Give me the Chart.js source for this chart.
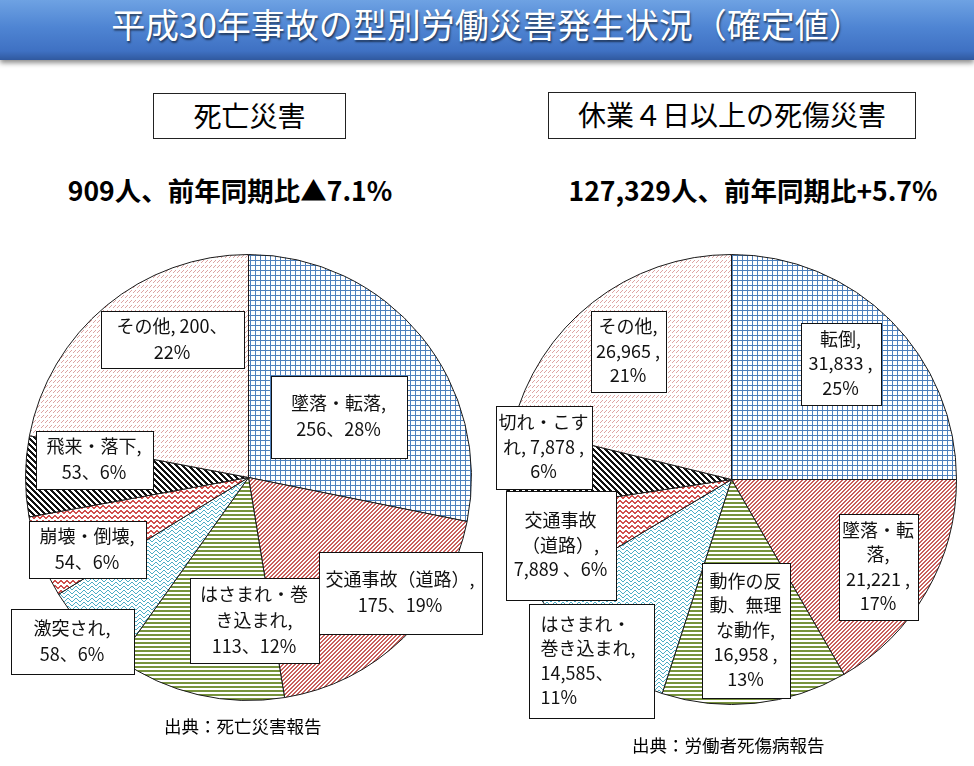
<!DOCTYPE html>
<html><head><meta charset="utf-8">
<script src="https://cdn.jsdelivr.net/npm/chart.js@4.4.1/dist/chart.umd.min.js"></script>
<style>
html,body{margin:0;padding:0;background:#fff;}
#page{position:relative;width:974px;height:766px;overflow:hidden;font-family:"Noto Sans CJK JP",sans-serif;color:#000;}
#banner{position:absolute;left:0;top:0;width:974px;height:60px;background:linear-gradient(#6ea2e3 0%,#4f85d3 45%,#3f71c3 85%,#30599f 100%);box-shadow:0 3px 5px rgba(0,0,0,.45);}
#title{position:absolute;left:0;top:0;width:974px;height:56px;line-height:48px;text-align:center;color:#fff;font-size:34px;text-shadow:1px 2px 2px rgba(0,0,0,.55);}
.hbox{position:absolute;border:1px solid #222;background:#fff;text-align:center;font-size:28px;box-sizing:border-box;}
.bold{position:absolute;font-weight:bold;font-size:26.5px;text-align:center;white-space:nowrap;}
.src{position:absolute;font-size:17.5px;white-space:nowrap;}
canvas{position:absolute;}
</style></head>
<body><div id="page">
<div id="banner"></div>
<div id="title">平成30年事故の型別労働災害発生状況（確定値）</div>
<div class="hbox" style="left:153px;top:93px;width:193px;height:46px;line-height:42px;">死亡災害</div>
<div class="hbox" style="left:548px;top:92px;width:368px;height:47px;line-height:43px;">休業４日以上の死傷災害</div>
<div class="bold" id="sumL" style="left:30px;top:170px;width:400px;"></div>
<div class="bold" id="sumR" style="left:553px;top:170px;width:400px;"></div>
<canvas id="cL" width="487" height="536" style="left:0;top:230px;"></canvas>
<canvas id="cR" width="487" height="536" style="left:487px;top:230px;"></canvas>
<div class="src" style="left:164px;top:713px;">出典：死亡災害報告</div>
<div class="src" style="left:632px;top:732px;">出典：労働者死傷病報告</div>
</div>
<script>
// ---- data ----
const fatalCategories = ['墜落・転落','交通事故（道路）','はさまれ・巻き込まれ','激突され','崩壊・倒壊','飛来・落下','その他'];
const fatalValues = [256, 175, 113, 58, 54, 53, 200];
const fatalTotal = 909;
const fatalChange = '▲7.1%';

const injuryCategories = ['転倒','墜落・転落','動作の反動、無理な動作','はさまれ・巻き込まれ','交通事故（道路）','切れ・こすれ','その他'];
const injuryValues = [31833, 21221, 16958, 14585, 7889, 7878, 26965];
const injuryTotal = 127329;
const injuryChange = '+5.7%';

document.getElementById('sumL').textContent = fatalTotal + '人、前年同期比' + fatalChange;
document.getElementById('sumR').textContent = injuryTotal.toLocaleString('en-US') + '人、前年同期比' + injuryChange;

// ---- patterns ----
function tile(w, h, color, fn) {
  const c = document.createElement('canvas'); c.width = w; c.height = h;
  const x = c.getContext('2d');
  x.fillStyle = '#fff'; x.fillRect(0, 0, w, h);
  x.fillStyle = color;
  for (let j = 0; j < h; j++) for (let i = 0; i < w; i++) if (fn(i, j)) x.fillRect(i, j, 1, 1);
  return x.createPattern(c, 'repeat');
}
const P = {
  grid: tile(5, 5, '#4f81bd', (i, j) => i === 0 || j === 0),
  redDiag: tile(4, 4, '#c9605d', (i, j) => (i + j) % 4 < 2),
  green: tile(1, 4, '#77933c', (i, j) => j % 4 < 2),
  teal: tile(8, 4, '#4bacc6', (i, j) => { const y = i < 4 ? 3 - i : i - 4; return j === y; }),
  wave: tile(6, 5, '#d0504d', (i, j) => { const ys = [0, 0, 1, 2, 2, 1]; return j === ys[i] || j === ys[i] + 1; }),
  black: tile(6, 6, '#111', (i, j) => ((i - j) % 6 + 6) % 6 < 3),
  pink: tile(4, 5, '#dca3a2', (i, j) => (i === 3 && j === 0) || (i === 2 && j === 1) || (i === 1 && j === 2))
};

// ---- label boxes plugin ----
const boxPlugin = {
  id: 'boxes',
  afterDatasetsDraw(chart, args, opts) {
    const ctx = chart.ctx;
    const meta = chart.getDatasetMeta(0);
    const ds = chart.data.datasets[0];
    const total = ds.data.reduce((a, b) => a + b, 0);
    ctx.save();
    meta.data.forEach((arc, i) => {
      const L = opts.layout[i];
      const k = arc.outerRadius / opts.refR;
      const cx = arc.x + L.dx * k, cy = arc.y + L.dy * k;
      const w = L.w * k, h = L.h * k;
      const x0 = Math.round(cx - w / 2) + 0.5, y0 = Math.round(cy - h / 2) + 0.5;
      ctx.fillStyle = '#fff';
      ctx.fillRect(x0, y0, Math.round(w), Math.round(h));
      ctx.strokeStyle = '#111'; ctx.lineWidth = 1;
      ctx.strokeRect(x0, y0, Math.round(w), Math.round(h));
      const name = chart.data.labels[i];
      const cuts = [0].concat(L.nb || [], [name.length]);
      const pieces = [];
      for (let c = 0; c < cuts.length - 1; c++) pieces.push(name.slice(cuts[c], cuts[c + 1]));
      const v = ds.data[i];
      const pct = Math.round(v / total * 100);
      let txt = L.tpl.replace('{v}', opts.fmt(v)).replace('{p}', pct);
      pieces.forEach((p, n) => { txt = txt.replace('{' + n + '}', p); });
      const lines = txt.split('\n');
      ctx.font = opts.fontSize + 'px "Noto Sans CJK JP", sans-serif';
      ctx.fillStyle = '#111';
      ctx.textBaseline = 'middle';
      lines.forEach((ln, n) => {
        const y = cy + (n - (lines.length - 1) / 2) * opts.lineHeight;
        if (L.left) { ctx.textAlign = 'left'; ctx.fillText(ln, x0 + 11, y); }
        else { ctx.textAlign = 'center'; ctx.fillText(ln, cx, y); }
      });
    });
    ctx.restore();
  }
};

const fatalLayout = [
  {dx: 90, dy: -61, w: 136, h: 82, tpl: '{0},\n{v}、{p}%'},
  {dx: 151.5, dy: 115, w: 163, h: 82, tpl: '{0},\n{v}、{p}%'},
  {dx: 5.5, dy: 142.5, w: 129, h: 85, nb: [6], tpl: '{0}\n{1},\n{v}、{p}%'},
  {dx: -176.5, dy: 163.5, w: 123, h: 65, tpl: '{0},\n{v}、{p}%'},
  {dx: -161.5, dy: 71.5, w: 117, h: 57, tpl: '{0},\n{v}、{p}%'},
  {dx: -154.5, dy: -18, w: 117, h: 58, tpl: '{0},\n{v}、{p}%'},
  {dx: -76.5, dy: -138.5, w: 143, h: 57, tpl: '{0}, {v}、\n{p}%'}
];
const injuryLayout = [
  {dx: 109, dy: -116, w: 80, h: 82, tpl: '{0},\n{v} ,\n{p}%'},
  {dx: 146.5, dy: 87, w: 79, h: 106, nb: [4], tpl: '{0}\n{1},\n{v} ,\n{p}%'},
  {dx: 14, dy: 150.5, w: 88, h: 135, nb: [4, 8], tpl: '{0}\n{1}\n{2},\n{v} ,\n{p}%'},
  {dx: -140.5, dy: 181, w: 125, h: 114, nb: [5], left: true, tpl: '{0}\n{1},\n{v}、\n{p}%'},
  {dx: -171, dy: 65.5, w: 110, h: 109, nb: [4], tpl: '{0}\n{1},\n{v} 、{p}%'},
  {dx: -188, dy: -32.5, w: 96, h: 83, nb: [5], tpl: '{0}\n{1}, {v} ,\n{p}%'},
  {dx: -103.5, dy: -128.5, w: 75, h: 81, tpl: '{0},\n{v} ,\n{p}%'}
];

function makePie(id, labels, values, fills, layout, refR, pad, fmt, lh) {
  new Chart(document.getElementById(id), {
    type: 'pie',
    data: {labels: labels, datasets: [{data: values, backgroundColor: fills, borderColor: '#1a1a1a', borderWidth: 1}]},
    options: {
      responsive: false, animation: false, devicePixelRatio: 1,
      layout: {padding: pad},
      plugins: {legend: {display: false}, tooltip: {enabled: false},
        boxes: {layout: layout, refR: refR, fmt: fmt, fontSize: 18, lineHeight: lh}}
    },
    plugins: [boxPlugin]
  });
}
makePie('cL', fatalCategories, fatalValues,
  [P.grid, P.redDiag, P.green, P.teal, P.wave, P.black, P.pink],
  fatalLayout, 223, {left: 25, right: 15, top: 24, bottom: 65}, v => String(v), 26);
makePie('cR', injuryCategories, injuryValues,
  [P.grid, P.redDiag, P.green, P.teal, P.wave, P.black, P.pink],
  injuryLayout, 225, {left: 19, right: 17, top: 24, bottom: 61}, v => v.toLocaleString('en-US'), 24.5);
</script>
</body></html>
